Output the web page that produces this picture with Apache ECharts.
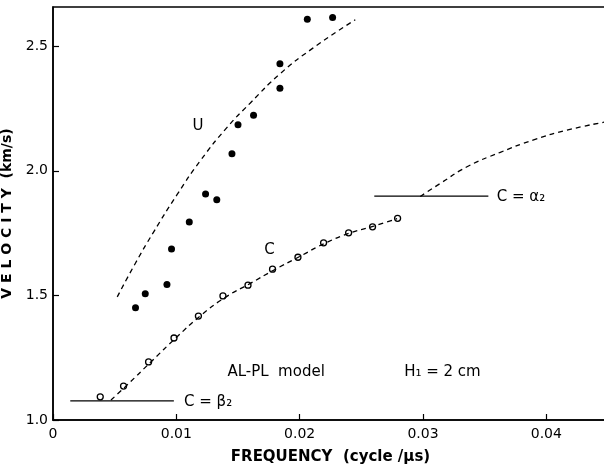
<!DOCTYPE html>
<html><head><meta charset="utf-8">
<script src="https://cdn.jsdelivr.net/npm/echarts@6/dist/echarts.min.js"></script>
<style>html,body{margin:0;padding:0;background:#fff}#c{width:604px;height:464px}</style>
</head><body><div id="c"></div>
<script>
// U (group velocity) measured points
var uFreq = [0.00669,0.00748,0.00924,0.00961,0.01105,0.01237,0.01328,0.01451,0.01500,0.01626,0.01840,0.01840,0.02062,0.02267];
var uVel  = [1.450,1.507,1.544,1.686,1.794,1.907,1.884,2.068,2.185,2.223,2.331,2.429,2.608,2.615];
// C (phase velocity) measured points
var cFreq = [0.00383,0.00572,0.00775,0.00981,0.01179,0.01378,0.01581,0.01780,0.01986,0.02194,0.02397,0.02591,0.02794];
var cVel  = [1.093,1.136,1.233,1.329,1.417,1.498,1.541,1.605,1.653,1.711,1.751,1.775,1.809];
// theoretical U curve
var uCurveFreq = [0.00521,0.00667,0.00813,0.01007,0.01194,0.01413,0.01600,0.01843,0.02110,0.02451];
var uCurveVel  = [1.494,1.628,1.752,1.905,2.040,2.175,2.272,2.390,2.493,2.606];
// theoretical C curve, first mode
var cCurveFreq = [0.0047,0.0060,0.0080,0.0100,0.0120,0.0140,0.0160,0.0180,0.0200,0.0220,0.0240,0.0260,0.0279];
var cCurveVel  = [1.080,1.140,1.236,1.331,1.420,1.493,1.548,1.604,1.656,1.708,1.749,1.778,1.808];
// theoretical C curve, higher branch
var c2CurveFreq = [0.02978,0.0314,0.03357,0.03627,0.03897,0.04168,0.0447];
var c2CurveVel  = [1.897,1.949,2.016,2.074,2.124,2.163,2.195];
// reference levels
var beta2Freq = [0.0014,0.0098];  var beta2Vel = [1.077,1.077];
var alpha2Freq = [0.02605,0.0353]; var alpha2Vel = [1.898,1.898];
// annotations
var annoText  = ['U','C','AL-PL  model','H\u2081 = 2 cm','C = \u03B2\u2082','C = \u03B1\u2082'];
var annoFreq  = [0.01175,0.01756,0.01410,0.02843,0.01058,0.03594];
var annoVel   = [2.179,1.682,1.194,1.194,1.073,1.896];
var annoAlign = ['center','center','left','left','left','left'];
// axis ticks
var xTicks = [0,0.01,0.02,0.03,0.04];
var yTicks = [1.0,1.5,2.0,2.5];

function pairs(a,b){return a.map(function(v,i){return [v,b[i]];});}
var FONT = 'DejaVu Sans';
var dash = [5,4];
var chart = echarts.init(document.getElementById('c'), null, {renderer:'canvas'});
chart.setOption({
  animation:false,
  backgroundColor:'#fff',
  grid:{left:53,right:-4,top:7,bottom:44,show:true,borderColor:'#000',borderWidth:1.5,
    containLabel:false,outerBoundsMode:'none'},
  xAxis:{type:'value',min:0,max:0.045,interval:0.01,
    name:'FREQUENCY  (cycle /\u03BCs)',nameLocation:'middle',nameGap:30,
    nameTextStyle:{fontFamily:FONT,fontSize:15,color:'#000',fontWeight:'bold'},
    axisLine:{lineStyle:{color:'#000',width:1.5}},
    axisTick:{inside:true,length:6,lineStyle:{color:'#000',width:1.2}},
    axisLabel:{fontFamily:FONT,fontSize:14,color:'#000',margin:7,showMaxLabel:false,
      formatter:function(v){return v===0?'0':v.toFixed(2);}},
    splitLine:{show:false}},
  yAxis:{type:'value',min:1.0,max:2.657,interval:0.5,
    name:'V E L O C I T Y  (km/s)',nameLocation:'middle',nameGap:31,
    nameTextStyle:{fontFamily:FONT,fontSize:14,color:'#000',fontWeight:'bold'},
    axisLine:{lineStyle:{color:'#000',width:1.5}},
    axisTick:{inside:true,length:6,lineStyle:{color:'#000',width:1.2}},
    axisLabel:{fontFamily:FONT,fontSize:14,color:'#000',margin:5,showMaxLabel:false,
      formatter:function(v){return v.toFixed(1);}},
    splitLine:{show:false}},
  series:[
    {type:'line',data:pairs(uCurveFreq,uCurveVel),smooth:0.5,showSymbol:false,silent:true,
      lineStyle:{color:'#000',width:1.3,type:dash}},
    {type:'line',data:pairs(cCurveFreq,cCurveVel),smooth:0.5,showSymbol:false,silent:true,
      lineStyle:{color:'#000',width:1.3,type:dash}},
    {type:'line',data:pairs(c2CurveFreq,c2CurveVel),smooth:0.5,showSymbol:false,silent:true,
      lineStyle:{color:'#000',width:1.3,type:dash}},
    {type:'line',data:pairs(beta2Freq,beta2Vel),showSymbol:false,silent:true,
      lineStyle:{color:'#000',width:1.3}},
    {type:'line',data:pairs(alpha2Freq,alpha2Vel),showSymbol:false,silent:true,
      lineStyle:{color:'#000',width:1.3}},
    {type:'scatter',data:pairs(uFreq,uVel),symbol:'circle',symbolSize:7,
      itemStyle:{color:'#000',opacity:1}},
    {type:'scatter',data:pairs(cFreq,cVel),symbol:'circle',symbolSize:6,
      itemStyle:{color:'#fff',borderColor:'#000',borderWidth:1.3,opacity:1}},
    {type:'scatter',symbolSize:1,itemStyle:{color:'rgba(0,0,0,0)'},silent:true,
      data:annoText.map(function(t,i){
        return {value:[annoFreq[i],annoVel[i]],
          label:{show:true,formatter:t,position:annoAlign[i]==='left'?'right':'inside',distance:0,
            fontFamily:FONT,fontSize:15,color:'#000',opacity:1}};
      })}
  ]
});
</script></body></html>
